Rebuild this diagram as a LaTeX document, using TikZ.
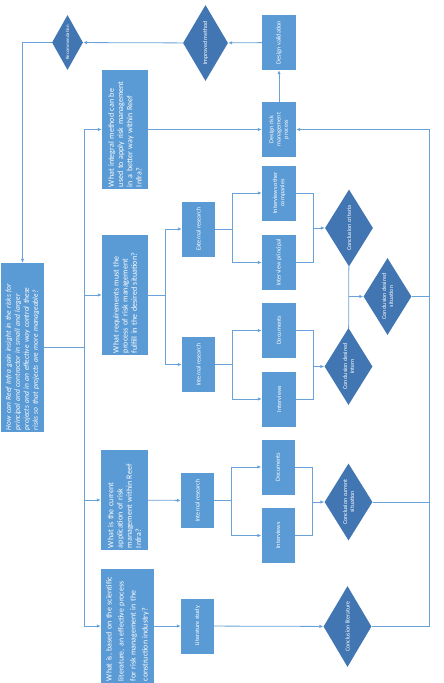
\documentclass[tikz,border=0pt]{standalone}
\usepackage{fontspec}
\setmainfont{Carlito}
\usetikzlibrary{shapes.geometric,arrows.meta}

\definecolor{boxblue}{RGB}{91,155,213}
\definecolor{dmdblue}{RGB}{66,118,178}
\definecolor{lineblue}{RGB}{105,162,216}

\tikzset{
  box/.style={rectangle, fill=boxblue, text=white, rotate=90, inner sep=2pt,
    align=center, font=\fontsize{6.2}{7.2}\selectfont,
    minimum width=55pt, minimum height=34pt},
  qbox/.style={box, align=left, font=\fontsize{8}{9.2}\selectfont, minimum height=46pt},
  dmd/.style={diamond, aspect=1.6, fill=dmdblue, text=white, rotate=90, inner sep=0.5pt,
    align=center, font=\fontsize{6}{7}\selectfont,
    minimum width=77pt, minimum height=48pt},
  conn/.style={lineblue, line width=0.8pt},
  arr/.style={conn, -{Latex[length=4pt,width=3.5pt]}},
}

\begin{document}
\begin{tikzpicture}[x=1pt, y=-1pt]
    \useasboundingbox (0,0) rectangle (444,683);

    % 1. Hoofdvraag en deelvragen
    \node[box, align=left, font=\fontsize{7.5}{9}\selectfont\itshape,
          text width=165pt, minimum height=43pt] (main) at (22.5,347.5)
        {How can Reef Infra gain insight in the risks for\\
         principal and contractor in small and larger\\
         projects and in an effective way control these\\
         risks so that projects are more manageable?};

    \node[qbox, text width=115pt] (q4) at (125,129.5)
        {What integral method can be\\ used to apply risk management\\ in a better way within Reef\\ Infra?};
    \node[qbox, text width=116pt] (q3) at (125,295)
        {What requirements must the\\ process of risk management\\ fulfill in the desired situation?};
    \node[qbox, text width=96pt, minimum height=47pt] (q2) at (124.5,500)
        {What is the current\\ application of risk\\ management within Reef\\ Infra?};
    \node[qbox, text width=110pt, minimum height=53pt,
          font=\fontsize{7.9}{12}\selectfont] (q1) at (127.5,626)
        {What is, based on the scientific\\ literature, an effective process\\ for risk management in the\\ construction industry?};

    % 2. Onderzoeksstappen
    \node[box, minimum height=33pt] (ext)  at (198.5,229)   {External research};
    \node[box, minimum height=33pt] (int3) at (198.5,364.5) {Internal research};
    \node[box, minimum height=33pt] (int2) at (197.5,500.5) {Internal research};
    \node[box, minimum height=33pt] (lit)  at (197.5,626)   {Literature study};

    \node[box] (other) at (279,193)   {Interviews other\\ companies};
    \node[box] (princ) at (279,262.5) {Interview principal};
    \node[box] (doc3)  at (279,330.5) {Documents};
    \node[box] (itv3)  at (279,399)   {Interviews};
    \node[box, minimum height=33pt] (doc2) at (278,467)   {Documents};
    \node[box, minimum height=33pt] (itv2) at (278,535.5) {Interviews};

    \node[box] (design) at (279,129.5) {Design risk\\ management\\ process};
    \node[box] (valid)  at (279,42.5)  {Design validation};

    % 3. Conclusies (ruiten)
    \node[dmd] (crit) at (349,228)   {Conclusion criteria};
    \node[dmd] (dsit) at (387.5,296.5) {Conclusion desired\\ situation};
    \node[dmd] (dint) at (348.5,366.5) {Conclusion desired\\ intern};
    \node[dmd] (curr) at (348.5,502)   {Conclusion current\\ situation};
    \node[dmd, minimum width=81pt] (clit) at (347.5,626.5) {Conclusion literature};
    \node[dmd, minimum width=76pt, minimum height=45pt] (impr) at (205.5,43) {Improved method};
    \node[dmd, minimum width=55pt, minimum height=31pt,
          font=\fontsize{4.8}{5.8}\selectfont] (rec) at (67.5,42.5) {Recommendation};

    % 4. Hulppunten voor de verbindingslijnen
    \coordinate (sp)  at (84,0);
    \coordinate (b3)  at (165,0);
    \coordinate (c1)  at (232,0);
    \coordinate (c2)  at (231,0);
    \coordinate (d1)  at (313,0);
    \coordinate (d2)  at (312,0);
    \coordinate (col) at (429,0);

    % 5. Hoofdvraag naar deelvragen
    \draw[conn] (main) -- (main -| sp);
    \draw[conn] (sp |- q4) -- (sp |- q1);
    \foreach \q in {q1,q2,q3,q4}
        \draw[arr] (sp |- \q) -- (\q);

    % 6. Deelvraag 3: extern en intern onderzoek
    \draw[conn] (q3) -- (q3 -| b3);
    \draw[conn] (b3 |- ext) -- (b3 |- int3);
    \draw[arr] (b3 |- ext) -- (ext);
    \draw[arr] (b3 |- int3) -- (int3);

    \draw[conn] (ext) -- (ext -| c1);
    \draw[conn] (c1 |- other) -- (c1 |- princ);
    \foreach \n in {other,princ} {
        \draw[arr] (c1 |- \n) -- (\n);
        \draw[conn] (\n) -| (d1 |- crit);
    }
    \draw[arr] (d1 |- crit) -- (crit);

    \draw[conn] (int3) -- (int3 -| c1);
    \draw[conn] (c1 |- doc3) -- (c1 |- itv3);
    \foreach \n in {doc3,itv3} {
        \draw[arr] (c1 |- \n) -- (\n);
        \draw[conn] (\n) -| (d1 |- dint);
    }
    \draw[arr] (d1 |- dint) -- (dint);

    \draw[conn] (crit) -- (dint);
    \draw[arr] (crit |- dsit) -- (dsit);
    \draw[conn] (dsit) -- (dsit -| col);

    % 7. Deelvraag 2: intern onderzoek
    \draw[arr] (q2) -- (int2);
    \draw[conn] (int2) -- (int2 -| c2);
    \draw[conn] (c2 |- doc2) -- (c2 |- itv2);
    \foreach \n in {doc2,itv2} {
        \draw[arr] (c2 |- \n) -- (\n);
        \draw[conn] (\n) -| (d2 |- curr);
    }
    \draw[arr] (d2 |- curr) -- (curr);
    \draw[conn] (curr) -- (curr -| col);

    % 8. Deelvraag 1: literatuur
    \draw[arr] (q1) -- (lit);
    \draw[arr] (lit) -- (clit);
    \draw[arr] (clit) -| (col |- design) -- (design);

    % 9. Deelvraag 4 en terugkoppeling
    \draw[arr] (q4) -- (design);
    \draw[arr] (design) -- (valid);
    \draw[arr] (valid) -- (impr);
    \draw[arr] (impr) -- (rec);
    \draw[arr] (rec) -| (main);
\end{tikzpicture}
\end{document}
